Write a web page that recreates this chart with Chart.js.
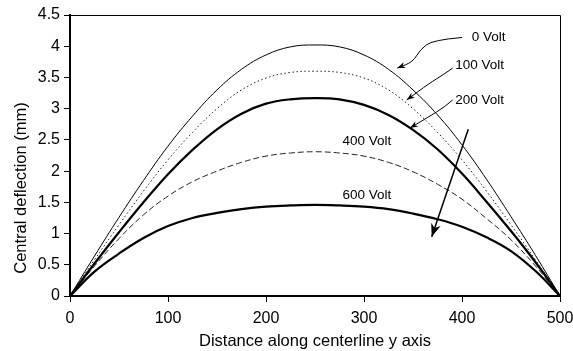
<!DOCTYPE html>
<html>
<head>
<meta charset="utf-8">
<script src="https://cdn.jsdelivr.net/npm/chart.js@4"></script>
<style>
  html, body { margin: 0; padding: 0; background: #fff; }
  #wrap { width: 573px; height: 351px; }
</style>
</head>
<body>
<div id="wrap"><canvas id="myChart" width="573" height="351"></canvas></div>
<script>
// distance along the centerline (x)
const distance = [0, 25, 50, 75, 100, 125, 150, 175, 200, 225, 250, 275, 300, 325, 350, 375, 400, 425, 450, 475, 500];

// central deflection (mm)
const volt0   = [0, 0.64, 1.26, 1.85, 2.40, 2.88, 3.30, 3.63, 3.86, 3.99, 4.02, 3.99, 3.86, 3.63, 3.30, 2.90, 2.42, 1.87, 1.27, 0.65, 0];
const volt100 = [0, 0.58, 1.14, 1.68, 2.18, 2.62, 3.00, 3.30, 3.49, 3.58, 3.60, 3.58, 3.49, 3.30, 3.00, 2.62, 2.18, 1.68, 1.14, 0.58, 0];
const volt200 = [0, 0.52, 1.02, 1.50, 1.95, 2.34, 2.67, 2.92, 3.08, 3.15, 3.17, 3.15, 3.06, 2.90, 2.66, 2.35, 1.96, 1.51, 1.04, 0.54, 0];
const volt400 = [0, 0.48, 0.92, 1.30, 1.60, 1.83, 2.00, 2.14, 2.24, 2.29, 2.31, 2.29, 2.24, 2.14, 1.99, 1.79, 1.55, 1.24, 0.90, 0.48, 0];
const volt600 = [0, 0.39, 0.68, 0.93, 1.12, 1.25, 1.33, 1.39, 1.43, 1.45, 1.46, 1.45, 1.43, 1.39, 1.32, 1.23, 1.11, 0.94, 0.72, 0.40, 0];

const xTicks = [0, 100, 200, 300, 400, 500];
const yTicks = [0, 0.5, 1, 1.5, 2, 2.5, 3, 3.5, 4, 4.5];

// text labels and leader arrows, in data units
const labels = [
    { text: '0 Volt',   x: 410, y: 4.15 },
    { text: '100 Volt', x: 393, y: 3.70 },
    { text: '200 Volt', x: 393, y: 3.14 },
    { text: '400 Volt', x: 278, y: 2.47 },
    { text: '600 Volt', x: 278, y: 1.62 }
];
const leaders = [
    [[400, 4.14], [370, 4.10], [357, 3.94], [350, 3.75], [334, 3.65]],
    [[390.5, 3.65], [380.6, 3.54], [367, 3.41], [343.6, 3.14]],
    [[390.5, 3.14], [382.7, 3.03], [365, 2.86], [347, 2.69]]
];
const bigArrow = [[406.4, 2.67], [369.1, 0.95]];

const family = '"Liberation Sans", Arial, sans-serif';

function pts(ys) {
    return distance.map((d, i) => ({ x: d, y: ys[i] }));
}

function head(ctx, x0, y0, x1, y1, len, wid) {
    const a = Math.atan2(y1 - y0, x1 - x0);
    ctx.beginPath();
    ctx.moveTo(x1, y1);
    ctx.lineTo(x1 - len * Math.cos(a) + wid * Math.sin(a), y1 - len * Math.sin(a) - wid * Math.cos(a));
    ctx.lineTo(x1 - len * Math.cos(a) * 0.7, y1 - len * Math.sin(a) * 0.7);
    ctx.lineTo(x1 - len * Math.cos(a) - wid * Math.sin(a), y1 - len * Math.sin(a) + wid * Math.cos(a));
    ctx.closePath();
    ctx.fill();
}

const notes = {
    id: 'notes',
    afterDraw(chart) {
        const ctx = chart.ctx;
        const a = chart.chartArea;
        const xs = chart.scales.x, ys = chart.scales.y;
        ctx.save();
        // thin frame top and right
        ctx.strokeStyle = '#000';
        ctx.lineWidth = 1;
        ctx.beginPath();
        ctx.moveTo(a.left, a.top + 0.5);
        ctx.lineTo(a.right + 0.5, a.top + 0.5);
        ctx.lineTo(a.right + 0.5, a.bottom);
        ctx.stroke();

        ctx.fillStyle = '#000';
        // y axis title, sits lower than the plot centre in the original
        ctx.save();
        ctx.translate(21, 188);
        ctx.rotate(-Math.PI / 2);
        ctx.font = '16.5px ' + family;
        ctx.textAlign = 'center';
        ctx.textBaseline = 'middle';
        ctx.fillText('Central deflection (mm)', 0, 0);
        ctx.restore();

        ctx.font = '13.5px ' + family;
        ctx.textBaseline = 'middle';
        for (const l of labels) {
            ctx.fillText(l.text, xs.getPixelForValue(l.x), ys.getPixelForValue(l.y));
        }

        ctx.lineWidth = 1;
        for (const ld of leaders) {
            const p = ld.map(q => [xs.getPixelForValue(q[0]), ys.getPixelForValue(q[1])]);
            ctx.beginPath();
            ctx.moveTo(p[0][0], p[0][1]);
            for (let i = 1; i < p.length - 1; i++) {
                const mx = (p[i][0] + p[i + 1][0]) / 2, my = (p[i][1] + p[i + 1][1]) / 2;
                ctx.quadraticCurveTo(p[i][0], p[i][1], mx, my);
            }
            const n = p.length;
            ctx.lineTo(p[n - 1][0], p[n - 1][1]);
            ctx.stroke();
            head(ctx, p[n - 2][0], p[n - 2][1], p[n - 1][0], p[n - 1][1], 8, 3);
        }

        const b = bigArrow.map(q => [xs.getPixelForValue(q[0]), ys.getPixelForValue(q[1])]);
        ctx.lineWidth = 1.5;
        ctx.beginPath();
        ctx.moveTo(b[0][0], b[0][1]);
        ctx.lineTo(b[1][0], b[1][1]);
        ctx.stroke();
        head(ctx, b[0][0], b[0][1], b[1][0], b[1][1], 13, 5);
        ctx.restore();
    }
};

const font = { family: family, size: 16 };

new Chart(document.getElementById('myChart').getContext('2d'), {
    type: 'line',
    data: {
        datasets: [
            { label: '0 Volt', data: pts(volt0), borderColor: '#000', borderWidth: 1 },
            { label: '100 Volt', data: pts(volt100), borderColor: '#222', borderWidth: 1, borderDash: [1.5, 2.5] },
            { label: '200 Volt', data: pts(volt200), borderColor: '#000', borderWidth: 2.2 },
            { label: '400 Volt', data: pts(volt400), borderColor: '#222', borderWidth: 1, borderDash: [6, 3] },
            { label: '600 Volt', data: pts(volt600), borderColor: '#000', borderWidth: 2.2 }
        ]
    },
    options: {
        responsive: false,
        animation: false,
        devicePixelRatio: 1,
        elements: {
            point: { radius: 0 },
            line: { tension: 0.4, fill: false }
        },
        layout: { padding: { left: 10, right: 13, top: 15, bottom: 0 } },
        plugins: { legend: { display: false }, tooltip: { enabled: false } },
        scales: {
            x: {
                type: 'linear',
                min: 0,
                max: 500,
                afterBuildTicks: s => { s.ticks = xTicks.map(v => ({ value: v })); },
                afterFit: s => { s.height = 351 - 296; s.paddingLeft = 0; s.paddingRight = 0; },
                grid: { drawOnChartArea: false, drawTicks: true, tickLength: 6, color: '#000' },
                border: { color: '#000', width: 2 },
                ticks: { color: '#000', font: font, padding: 7, maxRotation: 0 },
                title: { display: true, text: 'Distance along centerline y axis', color: '#000', font: { family: family, size: 16.5 }, padding: { top: 0, bottom: 0 } }
            },
            y: {
                min: 0,
                max: 4.5,
                afterBuildTicks: s => { s.ticks = yTicks.map(v => ({ value: v })); },
                afterFit: s => { s.width = 70 - 10; s.paddingTop = 0; s.paddingBottom = 0; },
                grid: { drawOnChartArea: false, drawTicks: true, tickLength: 6, color: '#000' },
                border: { color: '#000', width: 2 },
                ticks: { color: '#000', font: font, padding: 4, callback: v => String(v) }
            }
        }
    },
    plugins: [notes]
});
</script>
</body>
</html>
